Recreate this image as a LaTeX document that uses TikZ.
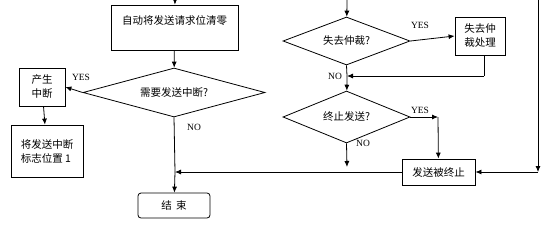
\documentclass[tikz,border=0pt]{standalone}
\usepackage{fontspec}
\setmainfont{Liberation Serif}
\newfontfamily\cjk{Noto Sans CJK SC}
\usetikzlibrary{shapes.geometric,arrows.meta}
\begin{document}
\begin{tikzpicture}[x=1pt,y=-1pt,
  every node/.style={font=\cjk\fontsize{10.5}{14}\selectfont, inner sep=0pt},
  box/.style={draw, thick, minimum width=#1, align=center},
  dia/.style={draw, thick, diamond, aspect=3.2},
  lab/.style={font=\fontsize{9.5}{10}\selectfont},
  line/.style={thick},
  arr/.style={thick, -{Latex[length=6pt,width=5pt]}}]
\useasboundingbox (0,0) rectangle (545,228);
% left column
\coordinate (t1) at (175,0);
\node[box=127pt, minimum height=45pt] (b1) at (174.5,27.5) {自动将发送请求位清零\\\mbox{}};
\node[dia, minimum width=182pt, minimum height=49pt] (d1) at (174,92.5) {需要发送中断?};
\node[box=46pt, minimum height=38pt] (y1) at (42,87) {产生\\中断};
\node[box=72pt, minimum height=52pt, align=left] (b2) at (47,151) {将发送中断\\标志位置 1};
\node[box=72pt, minimum height=25pt, rounded corners=3pt] (end) at (174,205.5) {结\hspace{0.4em}束};
\coordinate (m1) at (175,172);
\draw[arr] (t1) -- (b1);
\draw[arr] (b1) -- (d1);
\draw[arr] (d1.west) -- (y1.east);
\draw[arr] (y1) -- (b2);
\draw[line] (d1.south) -- (m1);
\draw[arr] (m1) -- (end);
\node[lab] at (81,77) {YES};
\node[lab] at (194,127) {NO};
% right column
\coordinate (t2) at (347,0);
\node[dia, minimum width=127pt, minimum height=48pt] (d2) at (346.5,41) {失去仲裁?};
\node[box=50pt, minimum height=38pt] (b3) at (480,36) {失去仲\\裁处理};
\coordinate (m2) at (347,76);
\coordinate (c3) at (484,76);
\node[dia, minimum width=127pt, minimum height=52pt] (d3) at (346.5,117) {终止发送?};
\node[box=73pt, minimum height=26pt] (b4) at (438.5,172) {发送被终止};
\coordinate (c4) at (438,117);
\coordinate (s3) at (347,167);
\coordinate (r1) at (538,0);
\coordinate (r2) at (538,172);
\draw[arr] (t2) -- (d2);
\draw[arr] (d2.east) -- (b3.west);
\draw[line] (b3.south -| c3) -- (c3);
\draw[arr] (c3) -- (m2);
\draw[line] (d2.south) -- (m2);
\draw[arr] (m2) -- (d3);
\draw[arr] (d3.east) -- (c4);
\draw[arr] (c4) -- (b4);
\draw[arr] (d3.south) -- (s3);
\draw[arr] (b4.west) -- (m1);
\draw[arr] (r1) -- (r2);
\draw[arr] (r2) -- (b4.east);
\node[lab] at (420,25) {YES};
\node[lab] at (335,76) {NO};
\node[lab] at (420,110) {YES};
\node[lab] at (363,143) {NO};
\end{tikzpicture}
\end{document}
